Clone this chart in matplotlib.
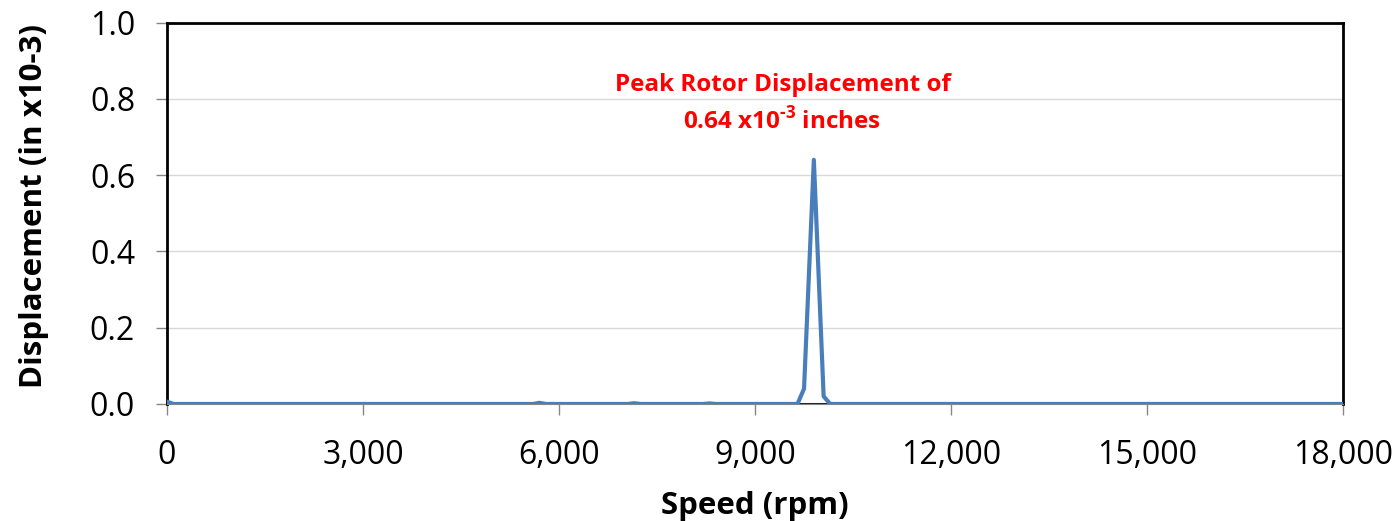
import numpy as np
import matplotlib.pyplot as plt

plt.rcParams['font.family'] = ['Open Sans', 'DejaVu Sans']
plt.rcParams['mathtext.fontset'] = 'custom'
plt.rcParams['mathtext.bf'] = 'Open Sans:bold'
plt.rcParams['mathtext.rm'] = 'Open Sans:bold'

# rotor response vs speed
speed = [0, 100, 5600, 5700, 5800, 7050, 7150, 7250, 8200, 8300, 8400,
         9650, 9750, 9900, 10050, 10150, 18000]
displacement = [0.006, 0.0, 0.0, 0.003, 0.0, 0.0, 0.002, 0.0, 0.0, 0.0015, 0.0,
                0.0, 0.04, 0.64, 0.02, 0.0, 0.0]
baseline = [0.0] * len(speed)

xticks = [0, 3000, 6000, 9000, 12000, 15000, 18000]
yticks = [0.0, 0.2, 0.4, 0.6, 0.8, 1.0]

fig = plt.figure(figsize=(13.99, 5.21), dpi=100)
ax = fig.add_axes([0.1194, 0.2246, 0.8406, 0.7322])

ax.plot(speed, baseline, color='#222222', lw=2.2, zorder=2)
ax.plot(speed, displacement, color='#4a7ebb', lw=3.0, zorder=3,
        solid_joinstyle='round')

ax.set_xlim(0, 18000)
ax.set_ylim(0, 1.0)
ax.set_xticks(xticks)
ax.set_xticklabels([f'{v:,}' for v in xticks])
ax.set_yticks(yticks)
ax.set_yticklabels([f'{v:.1f}' for v in yticks])
ax.tick_params(axis='both', direction='out', length=8, width=1, color='#868686',
               labelsize=23)
ax.tick_params(axis='x', pad=17)
ax.tick_params(axis='y', pad=15)
ax.yaxis.grid(True, color='#d9d9d9', lw=1)
ax.set_axisbelow(True)

for side in ['top', 'right', 'left']:
    ax.spines[side].set_color('black')
    ax.spines[side].set_linewidth(2)
ax.spines['bottom'].set_color('#868686')

ax.set_xlabel('Speed (rpm)', fontsize=22.5, fontweight='bold', labelpad=14)
ax.set_ylabel('Displacement (in x10-3)', fontsize=22.5, fontweight='bold', labelpad=24)
ax.yaxis.set_label_coords(-0.1, 0.52)

ax.text(9420, 0.835, 'Peak Rotor Displacement of', color='red', fontsize=17.5,
        fontweight='bold', ha='center', va='center')
ax.text(9420, 0.743, r'0.64 x10$^{\text{-3}}$ inches', color='red', fontsize=17.5,
        fontweight='bold', ha='center', va='center')

fig.savefig('out.png', dpi=100)
